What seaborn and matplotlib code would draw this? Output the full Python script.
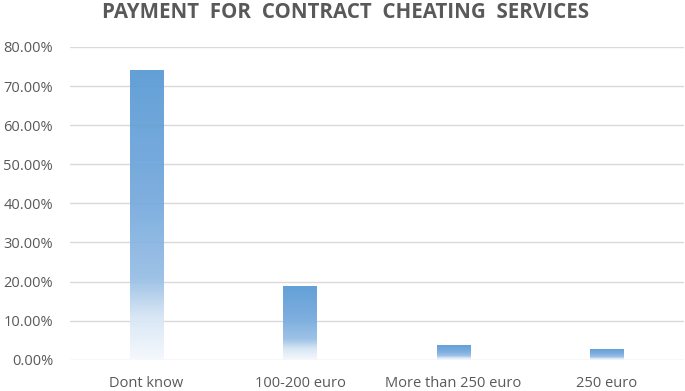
import numpy as np
import pandas as pd
import matplotlib.pyplot as plt
import seaborn as sns
from matplotlib.colors import LinearSegmentedColormap
from matplotlib.ticker import FuncFormatter

# dados
categorias = ["Dont know", "100-200 euro", "More than 250 euro", "250 euro"]
percentuais = [74.0, 18.7, 3.6, 2.6]

df = pd.DataFrame({"categoria": categorias, "percentual": percentuais})

sns.set_style("white")
plt.rcParams['font.family'] = ['Open Sans', 'DejaVu Sans']

fig, ax = plt.subplots(figsize=(6.85, 3.91), dpi=100)
fig.subplots_adjust(left=0.102, right=0.998, top=0.88, bottom=0.08)

sns.barplot(data=df, x="categoria", y="percentual", color="#5B9BD5", width=0.22, ax=ax, zorder=2)

# gradiente dentro das barras (estilo Excel)
cmap = LinearSegmentedColormap.from_list("grad", [
    (0.0, (0.96, 0.975, 0.99)),
    (0.15, (0.84, 0.90, 0.96)),
    (0.28, (0.60, 0.75, 0.90)),
    (0.55, (0.47, 0.67, 0.87)),
    (1.0, (0.357, 0.608, 0.835)),
])
grad = np.linspace(0, 1, 256).reshape(-1, 1)
for p in ax.patches:
    x0, y0 = p.get_x(), p.get_y()
    w, h = p.get_width(), p.get_height()
    p.set_visible(False)
    ax.imshow(grad, extent=[x0, x0 + w, y0, y0 + h], origin="lower",
              cmap=cmap, aspect="auto", zorder=2, alpha=0.95)

ax.set_xlim(-0.5, 3.5)
ax.set_ylim(0, 80)
ax.set_yticks(np.arange(0, 81, 10))
ax.yaxis.set_major_formatter(FuncFormatter(lambda v, _: f"{v:.2f}%"))
ax.grid(axis="y", color="#D9D9D9", linewidth=1, zorder=0)
ax.set_axisbelow(True)
for s in ax.spines.values():
    s.set_visible(False)
ax.tick_params(axis="y", length=0, labelsize=10.5, labelcolor="#595959", pad=12)
ax.tick_params(axis="x", length=0, labelsize=10.5, labelcolor="#595959", pad=12)
ax.set_xlabel("")
ax.set_ylabel("")

fig.suptitle("PAYMENT  FOR  CONTRACT  CHEATING  SERVICES", x=0.505, y=0.995,
             fontsize=14.8, fontweight="bold", color="#595959")

plt.savefig("out.png", dpi=100)
plt.close()
